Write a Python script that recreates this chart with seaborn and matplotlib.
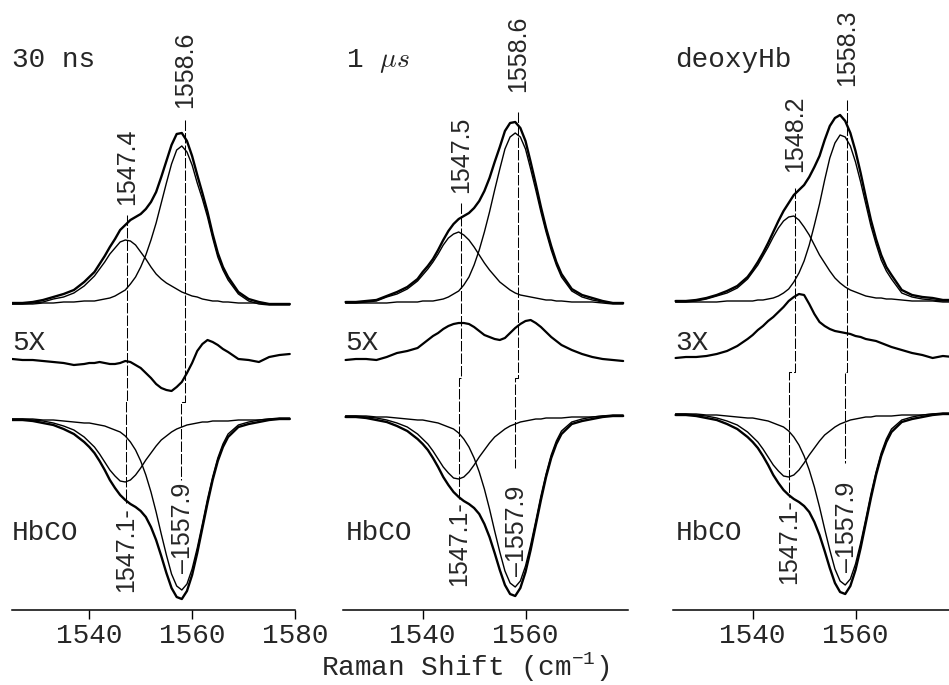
import matplotlib
matplotlib.use("Agg")
import matplotlib.pyplot as plt
import seaborn as sns

# Raman shift grid (cm-1): every 2 cm-1 in the wings, every 1 cm-1 across the bands
wavenumber = [1525, 1527, 1529, 1531, 1533, 1535, 1537,
              1539, 1540, 1541, 1542, 1543, 1544, 1545, 1546, 1547, 1548,
              1549, 1550, 1551, 1552, 1553, 1554, 1555, 1556, 1557, 1558,
              1559, 1560, 1561, 1562, 1563, 1564, 1565, 1566, 1567,
              1569, 1571, 1573, 1575, 1577, 1579]

# 30 ns photoproduct: fitted bands and 5X difference
ns30_band_hi = [1, 1, 1, 2, 2, 3, 3,
                4, 4, 4, 5, 6, 7, 9, 12, 15, 21,
                28, 38, 50, 65, 82, 102, 122, 141, 155, 159,
                153, 140, 122, 106, 88, 67, 48, 35, 25,
                11, 4, 1, 0, 0, 0]
ns30_band_lo = [1, 1, 2, 3, 6, 8, 12,
                19, 24, 29, 36, 43, 51, 57, 63, 65, 64,
                60, 53, 46, 38, 31, 26, 22, 19, 16, 13,
                11, 9, 8, 6, 5, 4, 4, 3, 3,
                2, 2, 2, 1, 1, 1]
ns30_diff = [0, -1, -1, -2, -3, -4, -6,
             -5, -4, -4, -3, -4, -5, -5, -4, -2, -3,
             -6, -9, -14, -19, -25, -29, -31, -32, -28, -23,
             -14, -4, 8, 15, 19, 17, 14, 10, 7,
             0, -1, -3, 2, 4, 5]

# 1 us photoproduct
us1_band_hi = [1, 1, 1, 1, 1, 2, 2,
               2, 3, 3, 3, 4, 5, 7, 10, 13, 19,
               27, 39, 54, 72, 92, 114, 135, 155, 167, 171,
               167, 155, 135, 114, 92, 72, 54, 39, 27,
               13, 7, 4, 2, 1, 1]
us1_band_lo = [1, 1, 2, 3, 7, 10, 15,
               23, 29, 35, 42, 50, 59, 66, 70, 72, 69,
               64, 57, 49, 41, 34, 28, 22, 18, 14, 11,
               9, 8, 7, 6, 5, 4, 4, 3, 3,
               2, 2, 2, 1, 0, 0]
us1_diff = [0, 1, 1, 0, 3, 7, 9,
            12, 16, 20, 24, 27, 31, 34, 36, 37, 37,
            36, 33, 29, 25, 23, 21, 20, 22, 27, 32,
            36, 39, 40, 37, 33, 28, 23, 19, 15,
            10, 6, 3, 1, 0, -1]

# deoxyHb, 3X difference
deoxy_band_hi = [1, 1, 1, 1, 1, 2, 2,
                 2, 2, 3, 3, 4, 5, 7, 10, 14, 21,
                 30, 42, 58, 78, 99, 123, 145, 160, 168, 166,
                 157, 141, 121, 99, 77, 59, 43, 32, 24,
                 10, 6, 4, 3, 2, 2]
deoxy_band_lo = [1, 1, 2, 4, 7, 10, 15,
                 24, 31, 38, 47, 56, 66, 75, 82, 86, 87,
                 83, 76, 68, 58, 48, 40, 32, 25, 20, 16,
                 13, 11, 9, 7, 6, 5, 5, 4, 4,
                 3, 2, 2, 2, 1, 1]
deoxy_diff = [0, 1, 1, 2, 4, 7, 12,
              19, 23, 28, 32, 37, 41, 46, 51, 57, 61,
              64, 63, 54, 44, 36, 32, 29, 27, 26, 25,
              24, 22, 21, 19, 18, 17, 15, 13, 11,
              8, 5, 3, 0, 2, 1]

# HbCO reference (same in every panel), plotted downward
hbco_band_hi = [1, 1, 1, 2, 2, 3, 4,
                5, 5, 6, 7, 8, 10, 12, 14, 18, 24,
                32, 43, 57, 74, 94, 116, 137, 156, 168, 172,
                166, 151, 130, 106, 81, 59, 40, 26, 16,
                7, 4, 2, 1, 0, 0]
hbco_band_lo = [1, 1, 2, 3, 5, 8, 12,
                19, 24, 29, 36, 44, 52, 58, 63, 64, 62,
                57, 50, 42, 35, 28, 22, 18, 14, 11, 9,
                7, 6, 5, 4, 4, 3, 3, 3, 3,
                2, 2, 2, 1, 1, 1]

panel_titles = ["30 ns", "1 $\\mu s$", "deoxyHb"]
diff_scales = ["5X", "5X", "3X"]
peak_hi = ["1558.6", "1558.6", "1558.3"]
peak_lo = ["1547.4", "1547.5", "1548.2"]
hbco_hi = "1557.9"
hbco_lo = "1547.1"

sns.set_style("white")
plt.rcParams['font.family'] = ['Liberation Mono', 'DejaVu Sans Mono']
plt.rcParams['mathtext.fontset'] = 'custom'
plt.rcParams['mathtext.rm'] = 'Liberation Mono'
plt.rcParams['mathtext.it'] = 'Liberation Mono:italic'

W, H = 949, 685
fig = plt.figure(figsize=(W / 100, H / 100), dpi=100)

px_per_cm = 5.14
tick1540_px = [89.3, 422.7, 752.7]
xmins = [1525, 1524.5, 1524.5]
xmax = 1580
ytop = 610  # axis line sits 610 px below the top of the figure

# vertical layout of the three traces in each panel (units above the axis line)
top_base = [305, 306, 307]
diff_base = [251, 250, 252]
bot_base = [192, 195, 197]
# marker line extents: (top, jog, bottom) for high and low band
hi_line = [(490, 208, 130), (498, 232, 142), (510, 238, 147)]
lo_line = [(395, 208, 107), (407, 232, 110), (422, 238, 113)]
lab_y = [(540, 443, 82, 60), (556, 455, 79, 66), (562, 476, 83, 68)]

bands = [(ns30_band_hi, ns30_band_lo, ns30_diff),
         (us1_band_hi, us1_band_lo, us1_diff),
         (deoxy_band_hi, deoxy_band_lo, deoxy_diff)]

dash = (0, (10, 2))
line_kw = dict(color='black', estimator=None, sort=False)
for i in range(3):
    left_px = tick1540_px[i] - (1540 - xmins[i]) * px_per_cm
    width_px = (xmax - xmins[i]) * px_per_cm
    ax = fig.add_axes([left_px / W, (H - 610) / H, width_px / W, ytop / H])
    ax.set_xlim(xmins[i], xmax)
    ax.set_ylim(0, ytop)
    ax.patch.set_alpha(0)

    hi, lo, diff = bands[i]
    tb, db, bb = top_base[i], diff_base[i], bot_base[i]

    # top spectrum: components and their sum
    top_sum = [tb + a + b for a, b in zip(hi, lo)]
    sns.lineplot(x=wavenumber, y=top_sum, ax=ax, linewidth=1.7, **line_kw)
    sns.lineplot(x=wavenumber, y=[tb + v for v in hi], ax=ax, linewidth=1.0, **line_kw)
    sns.lineplot(x=wavenumber, y=[tb + v for v in lo], ax=ax, linewidth=1.0, **line_kw)

    # difference trace
    sns.lineplot(x=wavenumber, y=[db + v for v in diff], ax=ax, linewidth=1.6, **line_kw)

    # HbCO, inverted
    bot_sum = [bb - a - b for a, b in zip(hbco_band_hi, hbco_band_lo)]
    sns.lineplot(x=wavenumber, y=bot_sum, ax=ax, linewidth=1.7, **line_kw)
    sns.lineplot(x=wavenumber, y=[bb - v for v in hbco_band_hi], ax=ax, linewidth=1.0, **line_kw)
    sns.lineplot(x=wavenumber, y=[bb - v for v in hbco_band_lo], ax=ax, linewidth=1.0, **line_kw)

    # dashed peak markers, stepping from photoproduct to HbCO position
    for up, down, (t, j, b) in [(peak_hi[i], hbco_hi, hi_line[i]),
                                (peak_lo[i], hbco_lo, lo_line[i])]:
        xu, xd = float(up), float(down)
        ax.plot([xu, xu, xd, xd], [t, j, j, b], color='black', lw=0.75,
                linestyle=dash)

    yh, yl, ybh, ybl = lab_y[i]
    lab_kw = dict(rotation=90, ha='center', va='center', fontsize=18,
                  family=['Liberation Sans', 'DejaVu Sans'])
    ax.text(float(peak_hi[i]), yh, peak_hi[i], **lab_kw)
    ax.text(float(peak_lo[i]), yl, peak_lo[i], **lab_kw)
    ax.text(float(hbco_hi) + 0.4, ybh, "\u2013" + hbco_hi, **lab_kw)
    ax.text(float(hbco_lo), ybl, hbco_lo + "-", **lab_kw)

    ax.text(1525.0, 543, panel_titles[i], fontsize=20, ha='left',
            va='baseline', math_fontfamily='cm')
    ax.text(1525.0, 260, diff_scales[i], fontsize=20, ha='left', va='baseline')
    ax.text(1525.0, 70, "HbCO", fontsize=20, ha='left', va='baseline')

    for s in ['left', 'right', 'top']:
        ax.spines[s].set_visible(False)
    ax.spines['bottom'].set_linewidth(1.1)
    ax.spines['bottom'].set_color('black')
    ax.set_yticks([])
    ax.set_xticks([1540, 1560, 1580] if i == 0 else [1540, 1560])
    ax.tick_params(axis='x', direction='out', length=6.5, width=1.0,
                   labelsize=20, pad=3, color='black', bottom=True)

fig.text(465 / W, 9 / H, "Raman Shift (cm$^{-1}$)", ha='center',
         va='baseline', fontsize=20)

fig.savefig("out.png", dpi=100, facecolor='white')
